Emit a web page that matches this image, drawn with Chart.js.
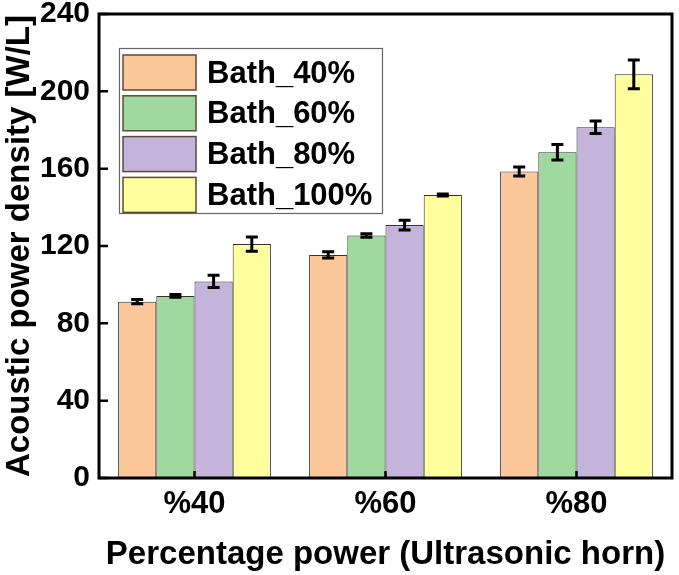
<!DOCTYPE html>
<html>
<head>
<meta charset="utf-8">
<script src="https://cdn.jsdelivr.net/npm/chart.js@4.4.0/dist/chart.umd.min.js"></script>
<style>
html,body{margin:0;padding:0;background:#fff;}
#wrap{position:relative;width:679px;height:575px;}
</style>
</head>
<body>
<div id="wrap"><canvas id="c" width="679" height="575"></canvas></div>
<script>
const categories = ['%40', '%60', '%80'];
const seriesNames = ['Bath_40%', 'Bath_60%', 'Bath_80%', 'Bath_100%'];
const bath40 = [91.2, 115.4, 158.5];
const bath60 = [94.2, 125.4, 168.5];
const bath80 = [101.7, 130.8, 181.4];
const bath100 = [121.0, 146.4, 208.8];
const err40 = [1.1, 1.6, 2.3];
const err60 = [0.7, 0.9, 4.0];
const err80 = [3.2, 2.5, 3.2];
const err100 = [3.7, 0.5, 7.4];
const yTicks = [0, 40, 80, 120, 160, 200, 240];
const colors = ['#FCC799', '#A0D9A0', '#C4B3DA', '#FFFF9E'];

const FONT = "'Liberation Sans', Arial, sans-serif";
const values = [bath40, bath60, bath80, bath100];
const errors = [err40, err60, err80, err100];

const errorBarPlugin = {
  id: 'errorBars',
  afterDatasetsDraw(chart) {
    const ctx = chart.ctx;
    const y = chart.scales.y;
    ctx.save();
    ctx.strokeStyle = '#000';
    ctx.lineWidth = 3;
    chart.data.datasets.forEach((ds, di) => {
      const meta = chart.getDatasetMeta(di);
      meta.data.forEach((bar, i) => {
        const v = ds.data[i], e = ds.errors[i];
        const yt = y.getPixelForValue(v + e);
        const yb = y.getPixelForValue(v - e);
        const x = bar.x, cw = 6;
        ctx.beginPath();
        ctx.moveTo(x, yt); ctx.lineTo(x, yb);
        ctx.moveTo(x - cw, yt); ctx.lineTo(x + cw, yt);
        ctx.moveTo(x - cw, yb); ctx.lineTo(x + cw, yb);
        ctx.stroke();
      });
    });
    ctx.restore();
  }
};

const framePlugin = {
  id: 'frame',
  afterDraw(chart) {
    const {ctx, chartArea: a} = chart;
    const xs = chart.scales.x, ys = chart.scales.y;
    ctx.save();
    ctx.strokeStyle = '#000';
    ctx.lineWidth = 2.5;
    ctx.beginPath();
    yTicks.forEach(t => {
      const py = ys.getPixelForValue(t);
      ctx.moveTo(a.left, py); ctx.lineTo(a.left + 9, py);
    });
    categories.forEach((c, i) => {
      const px = xs.getPixelForValue(i);
      ctx.moveTo(px, a.bottom); ctx.lineTo(px, a.bottom - 7);
    });
    ctx.stroke();
    ctx.lineWidth = 3;
    ctx.strokeRect(a.left, a.top, a.right - a.left, a.bottom - a.top);

    // legend
    const lx = 119, ly = 48, lw = 263, lh = 165;
    ctx.fillStyle = '#fff';
    ctx.fillRect(lx, ly, lw, lh);
    ctx.lineWidth = 1.2;
    ctx.strokeStyle = '#666';
    ctx.strokeRect(lx + 0.5, ly + 0.5, lw, lh);
    ctx.font = 'bold 31px ' + FONT;
    ctx.textBaseline = 'middle';
    ctx.textAlign = 'left';
    chart.data.datasets.forEach((ds, di) => {
      const sy = 55 + di * 40.8;
      ctx.fillStyle = ds.backgroundColor;
      ctx.fillRect(123, sy, 73, 35);
      ctx.strokeStyle = '#5a4a3a';
      ctx.lineWidth = 1.5;
      ctx.strokeRect(123, sy, 73, 35);
      ctx.fillStyle = '#000';
      ctx.fillText(ds.label, 207, sy + 19);
    });
    ctx.restore();
  }
};

new Chart(document.getElementById('c'), {
  type: 'bar',
  data: {
    labels: categories,
    datasets: seriesNames.map((n, i) => ({
      label: n,
      data: values[i],
      errors: errors[i],
      backgroundColor: colors[i],
      borderColor: '#333',
      borderWidth: 1,
      categoryPercentage: 0.8,
      barPercentage: 1.0
    }))
  },
  options: {
    responsive: false,
    animation: false,
    devicePixelRatio: 1,
    layout: { padding: { top: 14, right: 7, left: 0, bottom: 0 } },
    plugins: { legend: { display: false }, tooltip: { enabled: false } },
    scales: {
      x: {
        grid: { display: false, drawTicks: false },
        border: { display: false },
        ticks: { color: '#000', font: { family: FONT, size: 31, weight: 'bold' }, padding: 8 },
        title: { display: true, text: 'Percentage power (Ultrasonic horn)', color: '#000',
                 font: { family: FONT, size: 33, weight: 'bold' }, padding: { top: 0, bottom: 0 } },
        afterFit(s) { s.height = 97; s.paddingLeft = 0; s.paddingRight = 0; }
      },
      y: {
        min: 0, max: 240,
        grid: { display: false, drawTicks: false },
        border: { display: false },
        ticks: { stepSize: 40, color: '#000', font: { family: FONT, size: 30, weight: 'bold' }, padding: 9,
                 callback: v => yTicks.includes(v) ? String(v) : '' },
        title: { display: true, text: 'Acoustic power density [W/L]', color: '#000',
                 font: { family: FONT, size: 33, weight: 'bold' }, padding: { top: 0, bottom: 0 } },
        afterFit(s) { s.width = 99; s.paddingTop = 0; s.paddingBottom = 0; }
      }
    }
  },
  plugins: [errorBarPlugin, framePlugin]
});
</script>
</body>
</html>
